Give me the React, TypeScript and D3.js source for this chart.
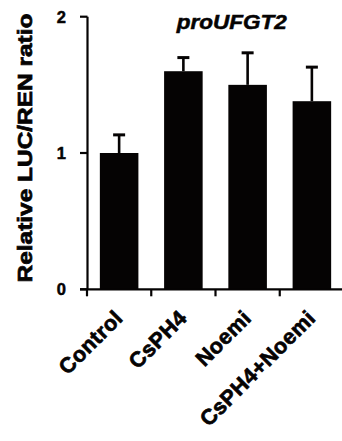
import React from "react";
import * as d3 from "d3";

// Relative LUC/REN ratio driven by the UFGT2 promoter
const categories = ["Control", "CsPH4", "Noemi", "CsPH4+Noemi"];
const means = [1.0, 1.6, 1.5, 1.38];
const errors = [0.133, 0.1, 0.235, 0.25];
const yTicks = [0, 1, 2];
const title = "proUFGT2";
const yLabel = "Relative LUC/REN ratio";

const W = 342;
const H = 441;
const FONT = "'Liberation Sans', Arial, Helvetica, sans-serif";
const INK = "#050303";

export default function App() {
  const x = d3.scaleBand<string>().domain(categories).range([87, 344]).padding(0);
  const y = d3.scaleLinear().domain([0, 2]).range([289.3, 16.7]);
  const bw = x.bandwidth() * 0.6;
  const boundaries = [...categories.map((c) => x(c) as number), x.range()[1]];

  // heavy text: bold face plus a thin outline of the same colour
  const heavy = { fill: INK, stroke: INK, strokeWidth: 0.7, fontWeight: "bold" as const };

  return (
    <svg
      width={W}
      height={H}
      style={{ position: "absolute", left: 0, top: 0, background: "#fff" }}
      fontFamily={FONT}
    >
      {/* bars */}
      {categories.map((c, i) => {
        const cx = (x(c) as number) + x.bandwidth() / 2;
        return (
          <rect
            key={c}
            x={cx - bw / 2}
            y={y(means[i])}
            width={bw}
            height={y(0) - y(means[i])}
            fill={INK}
          />
        );
      })}

      {/* upper error bars */}
      {categories.map((c, i) => {
        const cx = (x(c) as number) + x.bandwidth() / 2;
        const top = y(means[i] + errors[i]);
        return (
          <g key={c} stroke={INK}>
            <line x1={cx} x2={cx} y1={y(means[i])} y2={top} strokeWidth={2.6} />
            <line x1={cx - 6} x2={cx + 6} y1={top} y2={top} strokeWidth={3} />
          </g>
        );
      })}

      {/* y axis */}
      <line x1={87.5} x2={87.5} y1={y(2)} y2={y(0)} stroke={INK} strokeWidth={2.2} />
      {yTicks.map((t) => (
        <g key={t}>
          <line x1={80} x2={87.5} y1={y(t)} y2={y(t)} stroke={INK} strokeWidth={2.2} />
          <text
            x={66}
            y={y(t)}
            dy="0.36em"
            textAnchor="end"
            fontSize={16.5}
            {...heavy}
            strokeWidth={0.5}
          >
            {t}
          </text>
        </g>
      ))}

      {/* x axis */}
      <line x1={80} x2={W} y1={y(0)} y2={y(0)} stroke={INK} strokeWidth={2.2} />
      {boundaries.map((bx, i) => (
        <line key={i} x1={bx} x2={bx} y1={y(0)} y2={y(0) + 7} stroke={INK} strokeWidth={2.2} />
      ))}
      {categories.map((c) => {
        const cx = (x(c) as number) + x.bandwidth() / 2;
        return (
          <text
            key={c}
            transform={`translate(${cx + 5},${y(0) + 30}) rotate(-45)`}
            textAnchor="end"
            fontSize={21.5}
            letterSpacing={0.5}
            {...heavy}
          >
            {c}
          </text>
        );
      })}

      {/* title */}
      <text
        x={231.7}
        y={29}
        textAnchor="middle"
        fontSize={19.5}
        fontStyle="italic"
        textLength={110}
        lengthAdjust="spacingAndGlyphs"
        {...heavy}
        strokeWidth={0.5}
      >
        {title}
      </text>

      {/* y axis label */}
      <text
        transform={`translate(32,148) rotate(-90)`}
        textAnchor="middle"
        fontSize={21}
        textLength={269}
        lengthAdjust="spacingAndGlyphs"
        {...heavy}
      >
        {yLabel}
      </text>
    </svg>
  );
}
